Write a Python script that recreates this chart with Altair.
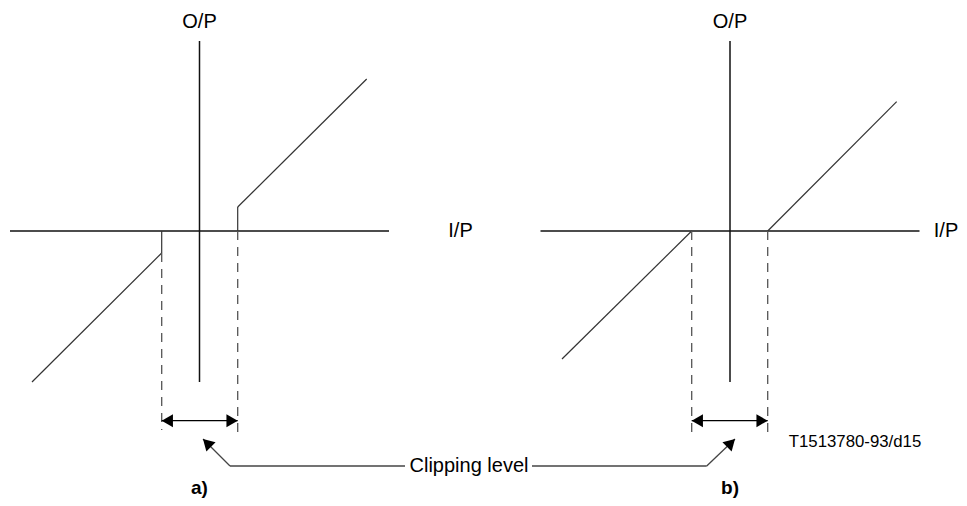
import altair as alt
import pandas as pd

# ---------------- data (units: px-like, relative to each panel's I/P-O/P origin) -------------
PANELS = ["a)", "b)"]
PANEL_SHIFT = [0.0, 530.5]            # horizontal position of each panel origin

IP_AXIS_X = [-189.5, 189.5]           # extent of the I/P axis
OP_AXIS_Y = [190.0, -151.0]           # extent of the O/P axis
OP_LABEL_Y = 209.0
IP_LABEL_X = [261.0, 216.0]
PANEL_LABEL_Y = -257.0

CLIP_LEFT = [-37.8, -38.3]            # clipping level positions (negative side)
CLIP_RIGHT = [38.2, 37.7]             # clipping level positions (positive side)

# transfer characteristics
A_POS_X = [38.2, 38.2, 167.2]
A_POS_Y = [0.0, 24.0, 152.0]
A_NEG_X = [-37.8, -37.8, -167.5]
A_NEG_Y = [0.0, -22.0, -151.0]
B_POS_X = [37.7, 166.7]
B_POS_Y = [0.0, 129.3]
B_NEG_X = [-38.3, -168.0]
B_NEG_Y = [0.0, -128.0]

DASH_TOP = [[-22.0, 0.0], [0.0, 0.0]]
DASH_BOTTOM = [[-199.0, -204.0], [-204.0, -204.0]]
ARROW_Y = -189.7

CALLOUT_Y = -235.0
CALLOUT_TEXT = "Clipping level"
CALLOUT_TEXT_X = 269.5
CALLOUT_CORNER_X = [30.5, 507.2]
CALLOUT_LINE_END_X = [205.5, 332.5]
CALLOUT_TIP_X = [3.5, 535.5]
CALLOUT_TIP_Y = [-208.0, -208.0]

FIG_ID = "T1513780-93/d15"
FIG_ID_X, FIG_ID_Y = 655.5, -211.0

X_DOMAIN = [-191.5, 759.5]
Y_DOMAIN = [-267.0, 223.0]
FONT = "Liberation Sans"

# ---------------- build tables ----------------
def seg_rows(xs, ys, shift, kind):
    rows = []
    for i in range(len(xs) - 1):
        rows.append(dict(x=xs[i] + shift, y=ys[i], x2=xs[i + 1] + shift, y2=ys[i + 1], kind=kind))
    return rows

axes_rows, curve_rows, dash_rows, arrow_rows, callout_rows = [], [], [], [], []
for p, s in enumerate(PANEL_SHIFT):
    axes_rows += seg_rows(IP_AXIS_X, [0, 0], s, "axis")
    axes_rows += seg_rows([0, 0], OP_AXIS_Y, s, "axis")
    cl, cr = CLIP_LEFT[p], CLIP_RIGHT[p]
    dash_rows += seg_rows([cl, cl], [DASH_TOP[p][0], DASH_BOTTOM[p][0]], s, "dash")
    dash_rows += seg_rows([cr, cr], [DASH_TOP[p][1], DASH_BOTTOM[p][1]], s, "dash")
    arrow_rows += seg_rows([cl, cr], [ARROW_Y, ARROW_Y], s, "arrow")

curve_rows += seg_rows(A_POS_X, A_POS_Y, PANEL_SHIFT[0], "curve")
curve_rows += seg_rows(A_NEG_X, A_NEG_Y, PANEL_SHIFT[0], "curve")
curve_rows += seg_rows(B_POS_X, B_POS_Y, PANEL_SHIFT[1], "curve")
curve_rows += seg_rows(B_NEG_X, B_NEG_Y, PANEL_SHIFT[1], "curve")

for k in range(2):
    callout_rows += seg_rows([CALLOUT_LINE_END_X[k], CALLOUT_CORNER_X[k]], [CALLOUT_Y, CALLOUT_Y], 0, "callout")
    callout_rows += seg_rows([CALLOUT_CORNER_X[k], CALLOUT_TIP_X[k]], [CALLOUT_Y, CALLOUT_TIP_Y[k]], 0, "callout")

axes_df = pd.DataFrame(axes_rows)
curve_df = pd.DataFrame(curve_rows)
dash_df = pd.DataFrame(dash_rows)
arrow_df = pd.DataFrame(arrow_rows)
callout_df = pd.DataFrame(callout_rows)

left_heads = pd.DataFrame({"x": [CLIP_LEFT[p] + PANEL_SHIFT[p] for p in range(2)], "y": [ARROW_Y] * 2})
right_heads = pd.DataFrame({"x": [CLIP_RIGHT[p] + PANEL_SHIFT[p] for p in range(2)], "y": [ARROW_Y] * 2})
tip_a = pd.DataFrame({"x": [CALLOUT_TIP_X[0]], "y": [CALLOUT_TIP_Y[0]]})
tip_b = pd.DataFrame({"x": [CALLOUT_TIP_X[1]], "y": [CALLOUT_TIP_Y[1]]})

labels = []
for p, s in enumerate(PANEL_SHIFT):
    labels.append(dict(x=s, y=OP_LABEL_Y, text="O/P"))
    labels.append(dict(x=s + IP_LABEL_X[p], y=0.0, text="I/P"))
labels.append(dict(x=CALLOUT_TEXT_X, y=CALLOUT_Y, text=CALLOUT_TEXT))
label_df = pd.DataFrame(labels)
panel_df = pd.DataFrame({"x": PANEL_SHIFT, "y": [PANEL_LABEL_Y] * 2, "text": PANELS})
id_df = pd.DataFrame({"x": [FIG_ID_X], "y": [FIG_ID_Y], "text": [FIG_ID]})

# ---------------- encodings ----------------
xs = alt.Scale(domain=X_DOMAIN, nice=False, zero=False)
ys = alt.Scale(domain=Y_DOMAIN, nice=False, zero=False)
X = alt.X("x:Q", scale=xs, axis=None)
Y = alt.Y("y:Q", scale=ys, axis=None)

def rules(df, **kw):
    return alt.Chart(df).mark_rule(**kw).encode(x=X, y=Y, x2="x2:Q", y2="y2:Q")

H = 6.5 * 0.866
axes_l = rules(axes_df, color="#111111", strokeWidth=1.5)
curve_l = rules(curve_df, color="#333333", strokeWidth=1.2)
dash_l = rules(dash_df, color="#555555", strokeWidth=1.3, strokeDash=[9, 7])
arrow_l = rules(arrow_df, color="#000000", strokeWidth=1.3)
callout_l = rules(callout_df, color="#444444", strokeWidth=1.3)

lh = alt.Chart(left_heads).mark_point(shape="triangle-left", filled=True, size=169, color="black",
                                      opacity=1, xOffset=H).encode(x=X, y=Y)
rh = alt.Chart(right_heads).mark_point(shape="triangle-right", filled=True, size=169, color="black",
                                       opacity=1, xOffset=-H).encode(x=X, y=Y)
ta = alt.Chart(tip_a).mark_point(shape="triangle-up", filled=True, size=169, color="black", opacity=1,
                                 angle=315, xOffset=H * 0.707, yOffset=H * 0.707).encode(x=X, y=Y)
tb = alt.Chart(tip_b).mark_point(shape="triangle-up", filled=True, size=169, color="black", opacity=1,
                                 angle=45, xOffset=-H * 0.707, yOffset=H * 0.707).encode(x=X, y=Y)

text_l = alt.Chart(label_df).mark_text(font=FONT, fontSize=20, color="black", align="center",
                                       baseline="middle").encode(x=X, y=Y, text="text:N")
panel_l = alt.Chart(panel_df).mark_text(font=FONT, fontSize=19, fontWeight="bold", color="black",
                                        align="center", baseline="middle").encode(x=X, y=Y, text="text:N")
id_l = alt.Chart(id_df).mark_text(font=FONT, fontSize=16.8, color="black", align="center",
                                  baseline="middle").encode(x=X, y=Y, text="text:N")

chart = alt.layer(axes_l, curve_l, dash_l, arrow_l, callout_l, lh, rh, ta, tb, text_l, panel_l, id_l).properties(
    width=951, height=490, autosize=alt.AutoSizeParams(type="none"), padding=0, background="white"
).configure_view(stroke=None)

chart.save("out.html", embed_options={"renderer": "svg", "actions": False})
